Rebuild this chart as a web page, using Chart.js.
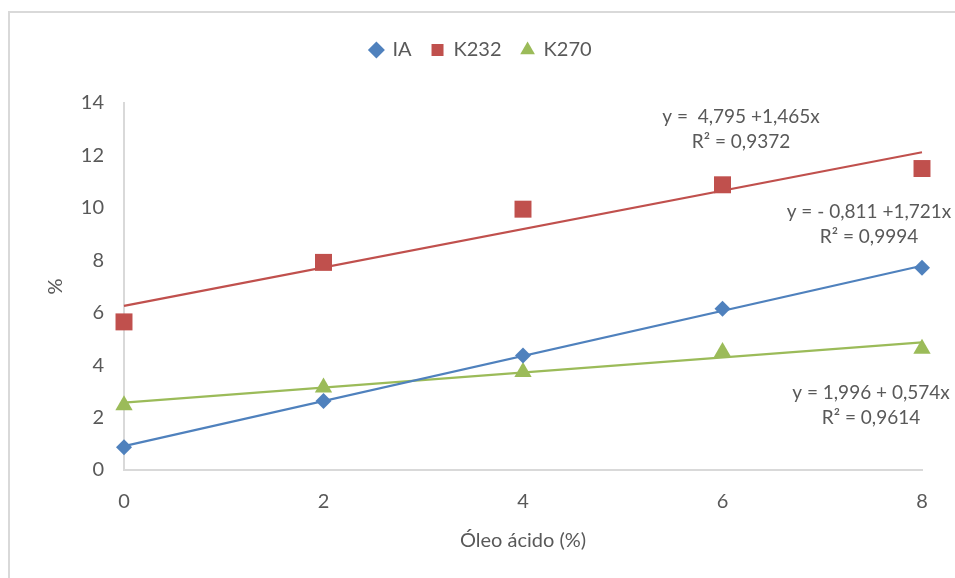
<!DOCTYPE html>
<html>
<head>
<meta charset="utf-8">
<script src="https://cdn.jsdelivr.net/npm/chart.js@4.4.1/dist/chart.umd.min.js"></script>
<style>
  html, body { margin: 0; padding: 0; background: #fff; }
  #wrap { width: 955px; height: 578px; position: relative; }
</style>
</head>
<body>
<div id="wrap"><canvas id="chart"></canvas></div>
<script>
// values
const oleoAcido = [0, 2, 4, 6, 8];
const iaValues = [0.87, 2.63, 4.37, 6.15, 7.72];
const k232Values = [5.65, 7.92, 9.95, 10.88, 11.5];
const k270Values = [2.47, 3.15, 3.74, 4.5, 4.63];

// trendline ends (x = 0 and x = 8), from the equations shown
const trendX = [0, 8];
const iaTrend = [0.91, 7.79];
const k232Trend = [6.26, 12.12];
const k270Trend = [2.57, 4.87];

const yTicks = [0, 2, 4, 6, 8, 10, 12, 14];

const equations = [
    ['y =  4,795 +1,465x', 'R² = 0,9372'],
    ['y = - 0,811 +1,721x', 'R² = 0,9994'],
    ['y = 1,996 + 0,574x', 'R² = 0,9614']
];

const blue = '#4f81bd';
const red = '#c0504d';
const green = '#9bbb59';
const textColor = '#595959';
const fontFamily = 'Lato, "Open Sans", sans-serif';

function toPoints(xs, ys) {
    return xs.map((x, i) => ({ x: x, y: ys[i] }));
}

function markerSet(label, values, color, style, radius) {
    return {
        label: label,
        data: toPoints(oleoAcido, values),
        showLine: false,
        pointStyle: style,
        pointRadius: radius,
        pointHoverRadius: radius,
        backgroundColor: color,
        borderColor: color,
        borderWidth: 0,
        clip: false
    };
}

function trendSet(values, color) {
    return {
        label: 'trend',
        data: toPoints(trendX, values),
        showLine: true,
        pointRadius: 0,
        borderColor: color,
        borderWidth: 2.2,
        fill: false,
        clip: false
    };
}

// gray frame, taller legend box and the regression text
const extras = {
    id: 'extras',
    beforeInit(chart) {
        const fit = chart.legend.fit;
        chart.legend.fit = function () {
            fit.bind(chart.legend)();
            this.height += 33;
        };
    },
    beforeDraw(chart) {
        const ctx = chart.ctx;
        ctx.save();
        ctx.strokeStyle = '#d9d9d9';
        ctx.lineWidth = 2;
        ctx.beginPath();
        ctx.moveTo(9, 600);
        ctx.lineTo(9, 12);
        ctx.lineTo(960, 12);
        ctx.stroke();
        ctx.restore();
    },
    afterDraw(chart) {
        const ctx = chart.ctx;
        const spots = [[741, 117], [869, 212], [871, 393]];
        ctx.save();
        ctx.fillStyle = textColor;
        ctx.font = '19px ' + fontFamily;
        ctx.textAlign = 'center';
        ctx.textBaseline = 'middle';
        equations.forEach((eq, i) => {
            ctx.fillText(eq[0], spots[i][0], spots[i][1]);
            ctx.fillText(eq[1], spots[i][0], spots[i][1] + 25);
        });
        ctx.restore();
    }
};

new Chart(document.getElementById('chart'), {
    type: 'scatter',
    data: {
        datasets: [
            markerSet('IA', iaValues, blue, 'rectRot', 8),
            markerSet('K232', k232Values, red, 'rect', 12),
            markerSet('K270', k270Values, green, 'triangle', 10),
            trendSet(iaTrend, blue),
            trendSet(k232Trend, red),
            trendSet(k270Trend, green)
        ]
    },
    options: {
        responsive: true,
        maintainAspectRatio: false,
        animation: false,
        layout: { padding: { left: 40, right: 33, top: 20, bottom: 21 } },
        plugins: {
            tooltip: { enabled: false },
            legend: {
                position: 'top',
                labels: {
                    usePointStyle: true,
                    boxWidth: 12,
                    boxHeight: 12,
                    padding: 20,
                    color: textColor,
                    font: { family: fontFamily, size: 20 },
                    filter: item => item.text !== 'trend'
                }
            }
        },
        scales: {
            x: {
                type: 'linear',
                min: 0,
                max: 8,
                afterFit: axis => { axis.height = 87; },
                grid: { display: false, drawTicks: false },
                border: { color: '#d9d9d9', width: 2 },
                ticks: {
                    stepSize: 2,
                    padding: 20,
                    color: textColor,
                    font: { family: fontFamily, size: 20 }
                },
                title: {
                    display: true,
                    text: 'Óleo ácido (%)',
                    color: textColor,
                    font: { family: fontFamily, size: 20 },
                    padding: { top: 0 }
                }
            },
            y: {
                min: 0,
                max: 14,
                afterBuildTicks: axis => { axis.ticks = yTicks.map(v => ({ value: v })); },
                afterFit: axis => { axis.width = 84; },
                grid: { display: false, drawTicks: false },
                border: { color: '#d9d9d9', width: 2 },
                ticks: {
                    padding: 20,
                    color: textColor,
                    font: { family: fontFamily, size: 20 }
                },
                title: {
                    display: true,
                    text: '%',
                    color: textColor,
                    font: { family: fontFamily, size: 20 },
                    padding: { bottom: 18 }
                }
            }
        }
    },
    plugins: [extras]
});
</script>
</body>
</html>
